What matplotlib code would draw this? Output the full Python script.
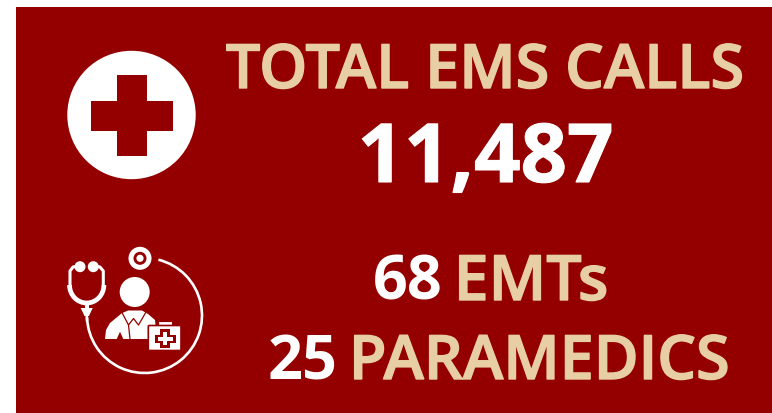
import matplotlib
matplotlib.use("Agg")
import matplotlib.pyplot as plt
import matplotlib.patheffects as pe
from matplotlib.patches import Circle, Rectangle, Polygon, Arc, FancyBboxPatch

title = "TOTAL EMS CALLS"
total_calls = "11,487"
emt_count = "68"
emt_label = "EMTs"
para_count = "25"
para_label = "PARAMEDICS"

RED = "#940000"
TAN = "#E8CFA3"
WHITE = "#FFFFFF"
FONT = "Open Sans"

fig = plt.figure(figsize=(7.72, 4.13), dpi=100, facecolor="white")
ax = fig.add_axes([0, 0, 1, 1])
ax.set_xlim(0, 772)
ax.set_ylim(413, 0)
ax.axis("off")

ax.add_patch(Rectangle((16, 7), 756, 406, fc=RED, ec="none"))

# first icon
ax.add_patch(Circle((131.5, 115), 64.2, fc=WHITE, ec="none"))
ax.add_patch(Rectangle((116.5, 74.5), 30, 81.5, fc=RED, ec="none"))
ax.add_patch(Rectangle((90.5, 100.5), 82, 30, fc=RED, ec="none"))

# second icon: tube
ax.add_patch(Arc((144.5, 315.5), 115, 115, theta1=-76, theta2=178, ec=WHITE, lw=1.9))
ax.plot([86.7, 87], [314, 320], color=WHITE, lw=1.9)
# chest piece
ax.add_patch(Circle((140, 258.3), 11.5, fc=WHITE, ec="none"))
ax.add_patch(Circle((140, 258.3), 6.5, fc=RED, ec="none"))
ax.add_patch(Circle((140, 258.3), 3.6, fc=WHITE, ec="none"))
# head set
ax.add_patch(Circle((80, 266.7), 5.5, fc=WHITE, ec="none"))
ax.add_patch(Circle((93.3, 266.7), 5.5, fc=WHITE, ec="none"))
ax.plot([78, 73, 70, 70], [266, 267, 271, 285], color=WHITE, lw=2.2, solid_joinstyle="round")
ax.plot([95, 100, 103.3, 103.3], [266, 267, 271, 285], color=WHITE, lw=2.2, solid_joinstyle="round")
ax.add_patch(Arc((86.7, 285), 34.4, 36, theta1=0, theta2=180, ec=WHITE, lw=3.4))
ax.add_patch(Rectangle((84.7, 302), 4, 7, fc=WHITE, ec="none"))
ax.add_patch(Polygon([(80.7, 308), (92.7, 308), (89, 316), (84.5, 316)], fc=WHITE, ec="none"))
# person
ax.add_patch(Circle((134.7, 292), 15, fc=WHITE, ec="none"))
ax.add_patch(Polygon([(105, 339), (106, 330), (110, 323), (121.7, 313.3), (128, 310.5), (142, 310.5),
                      (148, 314), (155, 320), (157, 339), (123.3, 339), (120, 331.7), (116.7, 339)],
                     fc=WHITE, ec="none"))
ax.plot([121.7, 128.5, 133.5, 138.5, 146], [312, 325, 318.5, 325, 312], color=RED, lw=0.9)
ax.plot([128.5, 130], [325, 339], color=RED, lw=0.9)
# medical case
ax.add_patch(Rectangle((158.3, 320.7), 13.4, 6, fc=WHITE, ec=RED, lw=0.8))
ax.add_patch(FancyBboxPatch((148.3, 325.5), 32.7, 25, boxstyle="round,pad=0,rounding_size=1",
                            fc=WHITE, ec=RED, lw=1.2))
ax.add_patch(Rectangle((160, 329), 10, 19, fc=RED, ec="none"))
ax.add_patch(Rectangle((155, 335), 21, 8, fc=RED, ec="none"))
ax.add_patch(Rectangle((163, 332), 4, 13, fc=WHITE, ec="none"))
ax.add_patch(Rectangle((158, 337.3), 15, 3.4, fc=WHITE, ec="none"))

# texts
thick = [pe.withStroke(linewidth=1.0, foreground=TAN)]
ax.text(485, 88, title, color=TAN, fontsize=44, fontweight="semibold", family=FONT,
        ha="center", va="baseline", path_effects=thick)
ax.text(485.5, 182, total_calls, color=WHITE, fontsize=58.6, fontweight="bold", family=FONT,
        ha="center", va="baseline", path_effects=[pe.withStroke(linewidth=0.8, foreground=WHITE)])

def pair(y, x0, size, left, right, gap, right_size):
    t = ax.text(x0, y, left, color=WHITE, fontsize=size, fontweight="bold", family=FONT, ha="left", va="baseline")
    fig.canvas.draw()
    bb = t.get_window_extent()
    ax.text(bb.x1 + gap, y, right, color=TAN, fontsize=right_size, fontweight="semibold", family=FONT,
            ha="left", va="baseline", path_effects=thick)

pair(300, 373, 44, emt_count, emt_label, 11, 45)
pair(379, 268, 44, para_count, para_label, 11, 44)

fig.savefig("out.png", dpi=100, facecolor="white")
